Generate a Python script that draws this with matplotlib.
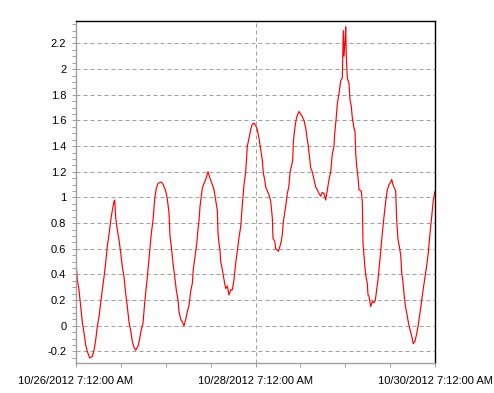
import datetime as dt
import numpy as np
import matplotlib
matplotlib.use('Agg')
import matplotlib.pyplot as plt
import matplotlib.dates as mdates
from matplotlib.ticker import MultipleLocator, FuncFormatter

start = dt.datetime(2012, 10, 26, 7, 12)

# hours after start, water level
hours = [0.0, 0.35, 0.80, 1.26, 1.68, 2.14, 2.59, 3.02, 3.66, 4.36, 4.81, 5.27, 5.70, 6.15,
         6.61, 7.03, 7.49, 7.94, 8.37, 8.82, 9.28, 9.71, 10.16, 10.35, 10.62, 11.04, 11.50,
         11.95, 12.38, 12.84, 13.29, 13.72, 14.17, 14.63, 15.06, 15.51, 15.96, 16.58, 17.03,
         17.46, 17.92, 18.37, 18.72, 19.07, 19.44, 19.79, 20.14, 20.59, 21.05, 21.47, 21.93,
         22.81, 23.34, 23.99, 24.41, 24.87, 25.14, 25.48, 25.94, 26.39, 26.82, 27.28, 27.54,
         28.00, 28.43, 28.88, 29.34, 29.77, 30.22, 30.67, 31.10, 31.37, 31.82, 32.28, 32.62,
         32.89, 33.16, 33.51, 33.77, 34.23, 34.68, 35.11, 35.30, 35.83, 36.45, 36.90, 37.36,
         37.79, 37.98, 38.24, 38.51, 38.69, 39.12, 39.58, 40.03, 40.46, 40.91, 41.37, 41.80,
         42.25, 42.71, 43.13, 43.59, 44.04, 44.47, 44.93, 45.38, 45.81, 46.26, 46.72, 47.14,
         47.60, 48.05, 48.48, 48.94, 49.39, 49.82, 50.09, 50.46, 50.73, 51.16, 51.61, 52.07,
         52.50, 52.68, 53.14, 53.40, 53.83, 54.10, 54.55, 54.90, 55.17, 55.44, 55.81, 56.16,
         56.50, 56.88, 57.23, 57.57, 57.95, 58.11, 58.48, 58.83, 59.18, 59.63, 60.09, 60.52,
         60.97, 61.43, 61.85, 62.12, 62.39, 62.76, 63.19, 63.64, 64.10, 64.53, 64.98, 65.44,
         65.86, 66.32, 66.77, 67.20, 67.66, 68.11, 68.54, 68.99, 69.18, 69.53, 69.88, 70.33,
         70.78, 71.21, 71.48, 71.67, 71.93, 72.12, 72.28, 72.55, 73.00, 73.27, 73.62, 73.89,
         74.34, 74.61, 74.80, 75.07, 75.41, 75.68, 76.29, 76.56, 76.75, 77.02, 77.28, 77.55,
         77.90, 78.09, 78.35, 78.81, 79.24, 79.69, 80.04, 80.41, 80.76, 81.03, 81.48, 81.91,
         82.36, 82.82, 83.25, 83.70, 84.16, 84.42, 84.77, 85.04, 85.49, 85.76, 86.11, 86.46,
         86.83, 87.10, 87.37, 87.71, 88.06, 88.43, 88.86, 89.31, 89.77, 90.20, 90.65, 91.11,
         91.54, 91.99, 92.44, 92.87, 93.33, 93.78, 94.21, 94.66, 95.12, 95.55, 96.00]
level = [0.50, 0.36, 0.28, 0.15, 0.03, -0.055, -0.15, -0.20, -0.25, -0.24, -0.19, -0.11, -0.005, 0.07,
         0.18, 0.28, 0.38, 0.49, 0.62, 0.71, 0.82, 0.90, 0.97, 0.98, 0.84, 0.75, 0.67,
         0.57, 0.46, 0.38, 0.25, 0.15, 0.03, -0.04, -0.12, -0.17, -0.19, -0.16, -0.10,
         -0.03, 0.02, 0.18, 0.28, 0.38, 0.50, 0.62, 0.72, 0.82, 0.99, 1.07, 1.11,
         1.12, 1.10, 1.05, 0.99, 0.88, 0.70, 0.62, 0.49, 0.38, 0.28, 0.20, 0.11,
         0.05, 0.03, 0.00, 0.05, 0.11, 0.16, 0.27, 0.33, 0.44, 0.54, 0.64, 0.75,
         0.82, 0.93, 1.01, 1.07, 1.11, 1.14, 1.18, 1.20, 1.15, 1.10, 1.06, 0.98,
         0.90, 0.72, 0.64, 0.59, 0.50, 0.44, 0.36, 0.29, 0.31, 0.24, 0.28, 0.28,
         0.36, 0.49, 0.58, 0.69, 0.77, 0.94, 1.10, 1.20, 1.40, 1.46, 1.53, 1.57,
         1.58, 1.56, 1.53, 1.46, 1.37, 1.29, 1.19, 1.14, 1.08, 1.05, 1.02, 0.97,
         0.84, 0.68, 0.66, 0.60, 0.59, 0.58, 0.62, 0.66, 0.71, 0.81, 0.88, 0.95,
         1.03, 1.08, 1.19, 1.24, 1.29, 1.43, 1.53, 1.60, 1.64, 1.67, 1.65, 1.63,
         1.60, 1.54, 1.45, 1.40, 1.33, 1.23, 1.20, 1.14, 1.08, 1.06, 1.03, 1.01,
         1.04, 1.03, 0.98, 1.06, 1.14, 1.20, 1.34, 1.40, 1.50, 1.60, 1.73, 1.81,
         1.91, 1.93, 2.30, 2.10, 2.21, 2.33, 2.10, 1.93, 1.89, 1.76, 1.71, 1.62,
         1.54, 1.51, 1.34, 1.24, 1.16, 1.06, 1.05, 0.97, 0.64, 0.54, 0.45, 0.38,
         0.33, 0.24, 0.23, 0.15, 0.19, 0.18, 0.20, 0.28, 0.36, 0.44, 0.58, 0.72,
         0.85, 0.97, 1.06, 1.10, 1.12, 1.14, 1.10, 1.08, 1.05, 0.82, 0.67, 0.62,
         0.55, 0.41, 0.36, 0.25, 0.16, 0.10, 0.03, -0.03, -0.08, -0.14, -0.12, -0.06,
         0.01, 0.10, 0.20, 0.29, 0.38, 0.47, 0.57, 0.72, 0.85, 0.98, 1.05]

times = [start + dt.timedelta(hours=h) for h in hours]

plt.rcParams['font.family'] = ['Liberation Sans', 'DejaVu Sans']
grid_col = '#a0a0a0'
px = 0.72  # one pixel in points at dpi 100

fig = plt.figure(figsize=(4.94, 3.93), dpi=100)
ax = fig.add_axes([76 / 494, 30 / 393, 359 / 494, 342 / 393])

ax.plot(times, level, color='#ff0000', lw=0.85)

ax.set_xlim(start, start + dt.timedelta(days=4))
ax.set_ylim(-0.29, 2.375)

ax.yaxis.set_major_locator(MultipleLocator(0.2))
ax.yaxis.set_minor_locator(MultipleLocator(0.05))
ax.yaxis.set_major_formatter(FuncFormatter(lambda v, p: '{:g}'.format(round(v, 2))))

ticks_x = [start + dt.timedelta(days=d) for d in (0, 2, 4)]
minor_x = [start + dt.timedelta(hours=12 * i) for i in range(9)]
ax.set_xticks(ticks_x)
ax.set_xticks(minor_x, minor=True)


def fmt_date(v, p):
    d = mdates.num2date(v)
    h12 = d.hour % 12 or 12
    ampm = 'AM' if d.hour < 12 else 'PM'
    return '{}/{}/{} {}:{:02d}:{:02d} {}'.format(d.month, d.day, d.year, h12, d.minute, d.second, ampm)


ax.xaxis.set_major_formatter(FuncFormatter(fmt_date))

ax.grid(True, which='major', color=grid_col, linestyle=(0, (4, 3)), lw=px)
ax.tick_params(which='both', direction='out', length=3, width=px, color=grid_col,
               labelsize=8, labelcolor='black')
ax.tick_params(axis='y', pad=4)
ax.tick_params(axis='x', pad=6)

for s in ('left', 'bottom'):
    ax.spines[s].set_color(grid_col)
for s in ('top', 'right'):
    ax.spines[s].set_color('black')
for s in ax.spines.values():
    s.set_linewidth(px * 1.4)

fig.savefig('out.png', dpi=100)
